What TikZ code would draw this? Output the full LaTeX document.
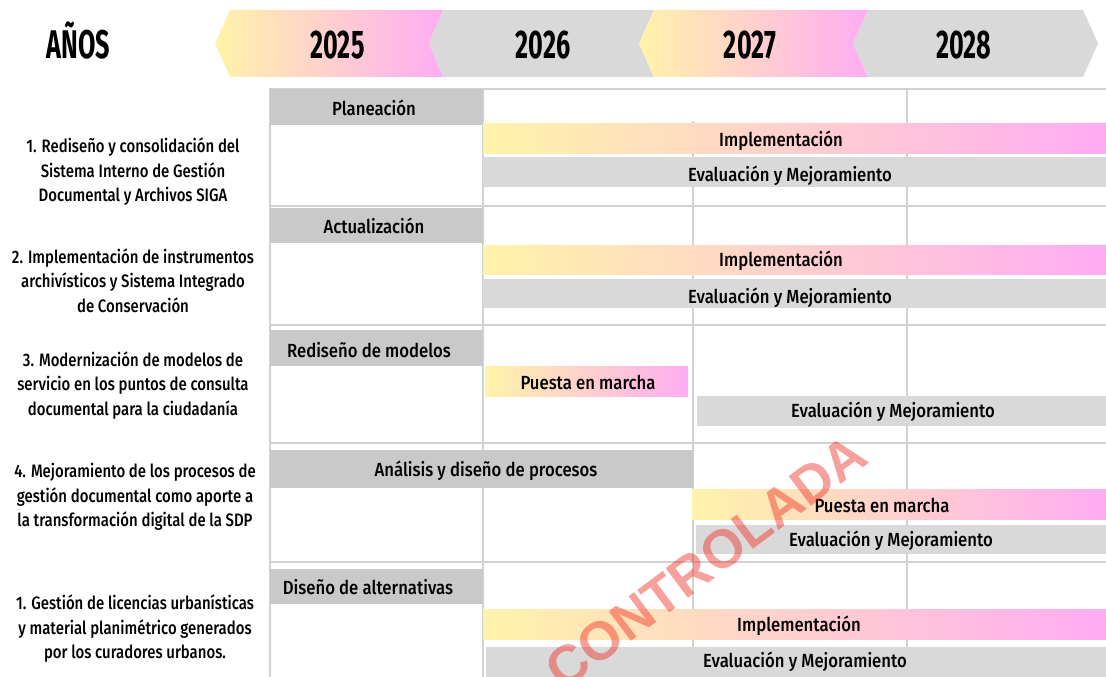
\documentclass[tikz,border=0pt]{standalone}
\usepackage{fontspec}
\setmainfont{Fira Sans}
\newfontfamily\hdrfont{Fira Sans}[FakeStretch=0.63]
\newfontfamily\txtfont{Fira Sans Medium}[FakeStretch=0.88]
\newfontfamily\rowfont{Fira Sans Medium}[FakeStretch=0.83]
\newfontfamily\wmfont{Liberation Sans}
\definecolor{gy}{HTML}{FFF3A9}
\definecolor{pk}{HTML}{FFACF3}
\definecolor{barg}{HTML}{D9D9D9}
\definecolor{phg}{HTML}{C9C9C9}
\definecolor{gridc}{HTML}{D2D2D2}
\definecolor{wmred}{RGB}{240,45,35}
\tikzset{
  gridline/.style={draw=gridc, line width=2pt},
  phase/.style={fill=phg, draw=none, anchor=north west, inner sep=0pt},
  gbar/.style={fill=barg, draw=none, anchor=north west, inner sep=0pt},
  cbar/.style={left color=gy, right color=pk, draw=none, anchor=north west, inner sep=0pt},
  lbl/.style={font=\txtfont\fontsize{19}{24}\selectfont, inner sep=0pt, text height=14pt, text depth=0pt},
  rowlbl/.style={font=\rowfont\fontsize{18}{24.5}\selectfont, inner sep=0pt, align=center},
  yr/.style={font=\hdrfont\bfseries\fontsize{40}{44}\selectfont, inner sep=0pt, text height=28pt, text depth=0pt},
  wm/.style={font=\wmfont\bfseries\fontsize{54}{58}\selectfont, text=wmred, text opacity=0.45, inner sep=0pt}
}
\begin{document}
\begin{tikzpicture}[x=1pt,y=-1pt]
\useasboundingbox (0,0) rectangle (1106,677);
\fill[white] (0,0) rectangle (1106,677);
% header banners
\shade[left color=gy, right color=pk] (230,10) -- (443,10) -- (429,43.5) -- (443,77) -- (230,77) -- (215,43.5) -- cycle;
\fill[barg] (443,10) -- (654,10) -- (639,43.5) -- (654,77) -- (443,77) -- (429,43.5) -- cycle;
\shade[left color=gy, right color=pk] (654,10) -- (868,10) -- (853,43.5) -- (868,77) -- (654,77) -- (639,43.5) -- cycle;
\fill[barg] (868,10) -- (1083,10) -- (1098,43.5) -- (1083,77) -- (868,77) -- (853,43.5) -- cycle;
\node[yr] (anios) at (78.5,44.5) {AÑOS};
\node[yr] (y2025) at (337.5,44.5) {2025};
\node[yr] (y2026) at (543,44.5) {2026};
\node[yr] (y2027) at (750,44.5) {2027};
\node[yr] (y2028) at (964,44.5) {2028};
% grid
\draw[gridline] (270,89) -- (1106,89);
\draw[gridline] (270,205.5) -- (1106,205.5);
\draw[gridline] (270,324.5) -- (1106,324.5);
\draw[gridline] (270,443) -- (1106,443);
\draw[gridline] (270,562) -- (1106,562);
\draw[gridline] (270,88) -- (270,677);
\draw[gridline] (483,88) -- (483,677);
\draw[gridline] (692.5,121) -- (692.5,677);
\draw[gridline] (906.5,88) -- (906.5,677);
% row labels
\node[rowlbl] (r1) at (133,172) {1. Rediseño y consolidación del\\Sistema Interno de Gestión\\Documental y Archivos SIGA};
\node[rowlbl] (r2) at (133,280.5) {2. Implementación de instrumentos\\archivísticos y Sistema Integrado\\de Conservación};
\node[rowlbl] (r3) at (133,385.5) {3. Modernización de modelos de\\servicio en los puntos de consulta\\documental para la ciudadanía};
\node[rowlbl] (r4) at (135,497) {4. Mejoramiento de los procesos de\\gestión documental como aporte a\\la transformación digital de la SDP};
\node[rowlbl] (r5) at (135,629) {1. Gestión de licencias urbanísticas\\y material planimétrico generados\\por los curadores urbanos.};
% row 1
\node[phase, minimum width=213pt, minimum height=36pt] (p1) at (270,89) {};
\node[lbl] (p1t) at (374,108) {Planeación};
\node[cbar, minimum width=623pt, minimum height=30pt] (i1) at (483,123) {};
\node[lbl] (i1t) at (781,139) {Implementación};
\node[gbar, minimum width=623pt, minimum height=30pt] (e1) at (483,157) {};
\node[lbl] (e1t) at (790,174) {Evaluación y Mejoramiento};
% row 2
\node[phase, minimum width=213pt, minimum height=35pt] (p2) at (270,208) {};
\node[lbl] (p2t) at (374,226) {Actualización};
\node[cbar, minimum width=623pt, minimum height=29pt] (i2) at (483,245) {};
\node[lbl] (i2t) at (781,259) {Implementación};
\node[gbar, minimum width=623pt, minimum height=29pt] (e2) at (483,279) {};
\node[lbl] (e2t) at (790,296) {Evaluación y Mejoramiento};
% row 3
\node[phase, minimum width=213pt, minimum height=36pt] (p3) at (270,330) {};
\node[lbl] (p3t) at (369,350) {Rediseño de modelos};
\node[cbar, minimum width=203pt, minimum height=30pt] (pm3) at (485,366) {};
\node[lbl] (pm3t) at (588,382) {Puesta en marcha};
\node[gbar, minimum width=409pt, minimum height=30pt] (e3) at (697,396) {};
\node[lbl] (e3t) at (893,410) {Evaluación y Mejoramiento};
% row 4
\node[phase, minimum width=423pt, minimum height=38pt] (p4) at (270,450) {};
\node[lbl] (p4t) at (486,469) {Análisis y diseño de procesos};
\node[cbar, minimum width=414pt, minimum height=30pt] (pm4) at (692,489) {};
\node[lbl] (pm4t) at (882,505) {Puesta en marcha};
\node[gbar, minimum width=410pt, minimum height=29pt] (e4) at (696,525) {};
\node[lbl] (e4t) at (891,539) {Evaluación y Mejoramiento};
% row 5
\node[phase, minimum width=213pt, minimum height=35pt] (p5) at (270,569) {};
\node[lbl] (p5t) at (368,587) {Diseño de alternativas};
\node[cbar, minimum width=623pt, minimum height=30pt] (i5) at (483,609) {};
\node[lbl] (i5t) at (799,624) {Implementación};
\node[gbar, minimum width=620pt, minimum height=32pt] (e5) at (486,647) {};
\node[lbl] (e5t) at (805,660) {Evaluación y Mejoramiento};
% watermark
\node[wm, rotate=36.8] (wmark) at (706,562) {CONTROLADA};
\end{tikzpicture}
\end{document}
